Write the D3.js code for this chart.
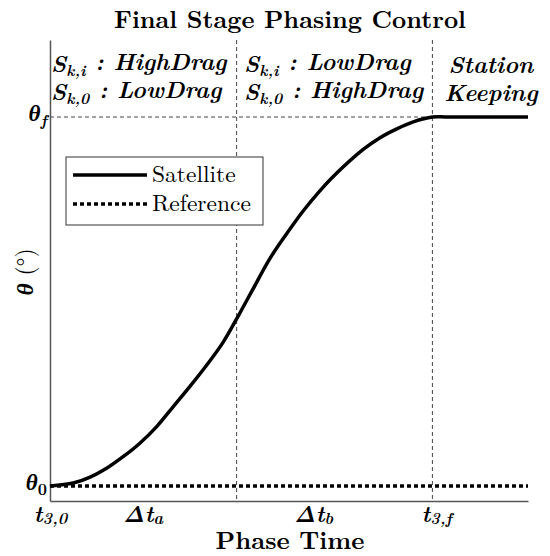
<!DOCTYPE html>
<html><head><meta charset="utf-8">
<script src="https://cdn.jsdelivr.net/npm/d3@7"></script>
<style>body{margin:0;background:#fff}svg{display:block}</style>
</head><body>
<script>
// Data (phase time normalised: t3,0 = 0, t3,f = 1; theta normalised: theta0 = 0, thetaf = 1)
const satT = [0, 0.061, 0.105, 0.148, 0.192, 0.235, 0.279, 0.323, 0.366, 0.410, 0.453, 0.495, 0.530, 0.573, 0.617, 0.661, 0.704, 0.748, 0.819, 0.863, 0.907, 0.950, 1.0, 1.04, 1.25];
const satTheta = [0, 0.008, 0.024, 0.048, 0.080, 0.116, 0.161, 0.216, 0.270, 0.328, 0.390, 0.466, 0.532, 0.613, 0.681, 0.744, 0.798, 0.846, 0.912, 0.944, 0.968, 0.987, 1.0, 1.0, 1.0];
const refT = [0, 1.25];
const refTheta = [0, 0];
const phaseBounds = [0.488, 1.0];
const xTickVals = [0, 0.242, 0.688, 1.01];
const xTickLabels = [["t","3,0"], ["Δt","a"], ["Δt","b"], ["t","3,f"]];
const yTickVals = [0, 1];
const yTickLabels = [["θ","0"], ["θ","f"]];
const legendNames = ["Satellite", "Reference"];

const W = 550, H = 556;
const svg = d3.select("body").append("svg").attr("width", W).attr("height", H);
const x = d3.scaleLinear().domain([0, 1.25]).range([50, 528]);
const y = d3.scaleLinear().domain([-0.0407, 1.2087]).range([501, 40]);
const serif = "'Latin Modern Roman', 'Liberation Serif', serif";

// Title
svg.append("text").attr("x", 290).attr("y", 28).attr("text-anchor", "middle")
  .style("font-family", serif).style("font-weight", "bold").style("font-size", "24.7px")
  .text("Final Stage Phasing Control");

// dashed guides
const g = svg.append("g");
g.selectAll("line.v").data(phaseBounds).enter().append("line")
  .attr("x1", d => x(d)).attr("x2", d => x(d)).attr("y1", y(1.2087)).attr("y2", y(-0.0407))
  .attr("stroke", "#444").attr("stroke-width", 1).attr("stroke-dasharray", "4,3");
g.append("line").attr("x1", x(0)).attr("x2", x(1)).attr("y1", y(1)).attr("y2", y(1))
  .attr("stroke", "#444").attr("stroke-width", 1).attr("stroke-dasharray", "4,3");

// axes
const xAxis = d3.axisBottom(x).tickValues(xTickVals).tickSize(0).tickPadding(4).tickFormat("");
const yAxis = d3.axisLeft(y).tickValues(yTickVals).tickSize(0).tickPadding(3).tickFormat("");
const gx = svg.append("g").attr("transform", `translate(0,${y(-0.0407)})`).call(xAxis);
const gy = svg.append("g").attr("transform", `translate(${x(0)},0)`).call(yAxis);
[gx, gy].forEach(a => a.select(".domain").attr("stroke", "#555").attr("stroke-width", 1.5));

function subLabel(sel, parts, size, subStyle, drop) {
  sel.text(null);
  sel.append("tspan").text(parts[0]);
  sel.append("tspan").attr("dy", drop).style("font-size", (size * 0.7) + "px")
    .style("font-style", subStyle).text(parts[1]);
}
gx.selectAll(".tick text").each(function(d, i) {
  const t = d3.select(this).attr("dy", "0.72em")
    .style("font-family", serif).style("font-weight", "bold").style("font-style", "italic")
    .style("font-size", "23px").attr("fill", "#000");
  subLabel(t, xTickLabels[i], 23, "italic", "0.15em");
});
gy.selectAll(".tick text").each(function(d, i) {
  const t = d3.select(this).attr("dy", "0.15em")
    .style("font-family", serif).style("font-weight", "bold").style("font-style", "italic")
    .style("font-size", "23px").attr("fill", "#000");
  subLabel(t, yTickLabels[i], 23, i === 0 ? "normal" : "italic", "0.3em");
});

// axis titles
svg.append("text").attr("x", 290).attr("y", 549).attr("text-anchor", "middle")
  .style("font-family", serif).style("font-weight", "bold").style("font-size", "25px")
  .text("Phase Time");
const yl = svg.append("text").attr("transform", "translate(33,272) rotate(-90)").attr("text-anchor", "middle")
  .style("font-family", serif).style("font-size", "23.5px");
yl.append("tspan").style("font-weight", "bold").style("font-style", "italic").text("θ");
yl.append("tspan").text(" (°)");

// lines
const line = d3.line().x(d => x(d[0])).y(d => y(d[1])).curve(d3.curveCatmullRom.alpha(0.5));
svg.append("path").datum(refT.map((t, i) => [t, refTheta[i]])).attr("d", line)
  .attr("fill", "none").attr("stroke", "#000").attr("stroke-width", 3.5).attr("stroke-dasharray", "4,3");
svg.append("path").datum(satT.map((t, i) => [t, satTheta[i]])).attr("d", line)
  .attr("fill", "none").attr("stroke", "#000").attr("stroke-width", 3.5);

// phase annotations
function annot(xp, yp, s, sub, rest, anchor) {
  const t = svg.append("text").attr("x", xp).attr("y", yp).attr("text-anchor", anchor || "start")
    .style("font-family", serif).style("font-weight", "bold").style("font-style", "italic").style("font-size", "23.5px");
  if (s) {
    t.append("tspan").text(s);
    t.append("tspan").attr("dy", "0.25em").style("font-size", "15.5px").text(sub);
    t.append("tspan").attr("dy", "-0.25em").text(" : " + rest);
  } else t.text(rest);
}
annot(51, 72, "S", "k,i", "HighDrag");
annot(51, 100, "S", "k,0", "LowDrag");
annot(244, 72, "S", "k,i", "LowDrag");
annot(244, 100, "S", "k,0", "HighDrag");
annot(491, 73, null, null, "Station", "middle");
annot(491, 101, null, null, "Keeping", "middle");

// legend
const lg = svg.append("g");
lg.append("rect").attr("x", 66).attr("y", 157).attr("width", 197).attr("height", 68)
  .attr("fill", "#fff").attr("stroke", "#333").attr("stroke-width", 1);
const styles = [null, "4,3"];
legendNames.forEach((n, i) => {
  const yy = 175 + i * 29;
  lg.append("line").attr("x1", 73).attr("x2", 147).attr("y1", yy).attr("y2", yy)
    .attr("stroke", "#000").attr("stroke-width", 3.5).attr("stroke-dasharray", styles[i]);
  lg.append("text").attr("x", 152).attr("y", yy + 7)
    .style("font-family", serif).style("font-size", "23.5px").text(n);
});
</script>
</body></html>
